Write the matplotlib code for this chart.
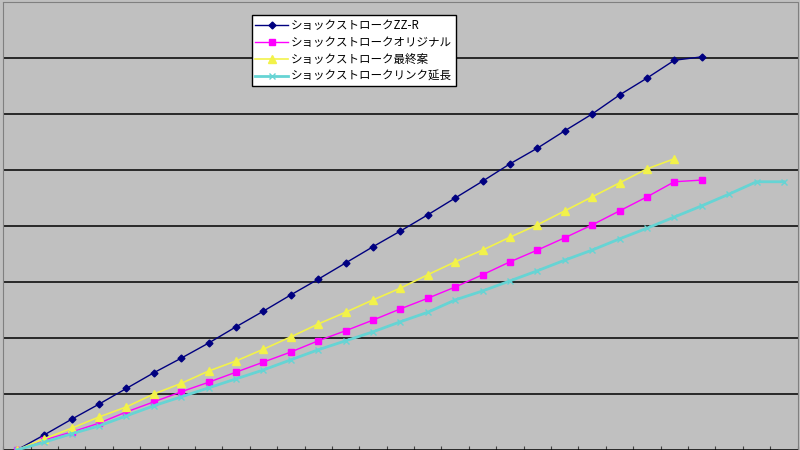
import numpy as np
import matplotlib
matplotlib.use('Agg')
import matplotlib.pyplot as plt

plt.rcParams['font.family'] = ['Noto Sans CJK JP', 'DejaVu Sans']

# stroke readings per step
zzr = [0, 2.7, 5.5, 8.2, 11.0, 13.8, 16.4, 19.1, 22.0, 24.8, 27.7, 30.5, 33.4,
       36.3, 39.1, 42.0, 45.0, 48.0, 51.1, 53.9, 57.0, 60.0, 63.4, 66.4, 69.6, 70.2]
original = [0, 1.8, 3.2, 4.8, 6.8, 8.6, 10.4, 12.1, 13.9, 15.7, 17.5, 19.5, 21.3,
            23.2, 25.2, 27.1, 29.1, 31.3, 33.6, 35.7, 37.9, 40.2, 42.7, 45.2, 47.9, 48.2]
final = [0, 2.0, 3.9, 5.9, 7.7, 10.0, 11.9, 14.1, 15.9, 18.0, 20.2, 22.5, 24.6,
         26.8, 28.9, 31.3, 33.6, 35.7, 38.0, 40.2, 42.7, 45.2, 47.7, 50.2, 52.0]
link_ext = [0, 1.4, 2.9, 4.3, 6.1, 7.9, 9.5, 11.1, 12.7, 14.3, 16.1, 17.9, 19.5,
            21.1, 22.9, 24.6, 26.8, 28.4, 30.2, 32.0, 33.9, 35.7, 37.7, 39.6, 41.6,
            43.6, 45.7, 47.9, 47.9]

labels = ['ショックストロークZZ-R', 'ショックストロークオリジナル',
          'ショックストローク最終案', 'ショックストロークリンク延長']
n_categories = 29


def main():
    fig = plt.figure(figsize=(8, 4.5), dpi=100)
    ax = fig.add_axes([0.004, 0.0, 0.993, 448 / 450])
    ax.set_facecolor('#c0c0c0')

    ax.plot(range(len(zzr)), zzr, color='#000080', marker='D', markersize=3.5,
            linewidth=1, label=labels[0])
    ax.plot(range(len(original)), original, color='#ff00ff', marker='s', markersize=5,
            linewidth=1, label=labels[1])
    ax.plot(range(len(final)), final, color='#f2f24a', marker='^', markersize=5.5,
            linewidth=1.2, label=labels[2])
    ax.plot(range(len(link_ext)), link_ext, color='#66d4d4', marker='x', markersize=4,
            linewidth=2, label=labels[3])

    ax.set_xlim(-0.5, n_categories - 0.5)
    ax.set_ylim(0, 80)
    ax.set_yticks(np.arange(0, 81, 10))
    ax.yaxis.grid(True, color='black', linewidth=1.1)
    ax.set_axisbelow(True)
    ax.set_xticks(np.arange(-0.5, n_categories, 1))
    ax.tick_params(axis='x', direction='in', length=3, color='#404040',
                   labelbottom=False)
    ax.tick_params(axis='y', length=0, labelleft=False)
    for side in ['left', 'top', 'right']:
        ax.spines[side].set_color('#808080')
        ax.spines[side].set_linestyle((0, (1, 1)))
    ax.spines['bottom'].set_color('#404040')

    leg = ax.legend(loc='upper left', bbox_to_anchor=(0.315, 0.966),
                    bbox_transform=fig.transFigure, fontsize=8.3, fancybox=False,
                    framealpha=1, edgecolor='black', borderpad=0.3,
                    labelspacing=0.35, handlelength=2.8, handletextpad=0.3,
                    borderaxespad=0)
    leg.get_frame().set_linewidth(1)

    fig.savefig('out.png', dpi=100, facecolor='#c0c0c0')


if __name__ == '__main__':
    main()
